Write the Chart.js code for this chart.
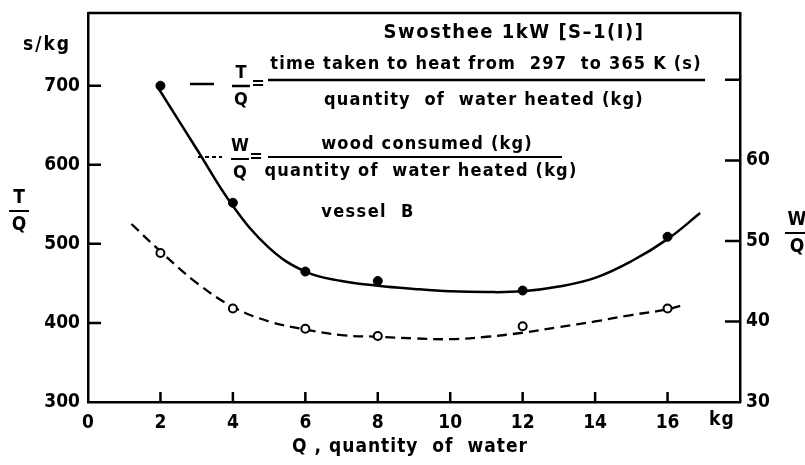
<!DOCTYPE html>
<html>
<head>
<meta charset="utf-8">
<script src="https://cdn.jsdelivr.net/npm/chart.js@4.4.0/dist/chart.umd.min.js"></script>
<style>
  html, body { margin: 0; padding: 0; background: #fff; }
</style>
</head>
<body>
<canvas id="chart" width="805" height="465"></canvas>
<script>
// measured points: filled dots = T/Q (left axis), open circles = W/Q (right axis)
const qPoints = [2, 4, 6, 8, 12, 16];
const tqPoints = [700, 552, 465, 453, 441, 509];
const wqPoints = [48.5, 41.6, 39.1, 38.2, 39.4, 41.6];

// smoothed curves as drawn through the points
const tqCurveQ = [1.9, 3, 4, 5, 6, 7, 8, 9, 10, 11, 12, 13, 14, 15, 16, 16.9];
const tqCurve = [700, 620, 548, 495, 465, 453, 447, 443, 440, 439, 440, 446, 457, 478, 506, 539];
const wqCurveQ = [1.2, 2, 3, 4, 5, 6, 7, 8, 9, 10, 11, 12, 13, 14, 15, 16, 16.4];
const wqCurve = [52.1, 48.7, 44.8, 41.8, 40.0, 39.0, 38.3, 38.1, 37.9, 37.8, 38.1, 38.6, 39.3, 40.0, 40.8, 41.5, 42.0];

// tick labels
const xTicks = [0, 2, 4, 6, 8, 10, 12, 14, 16];
const leftTicks = [300, 400, 500, 600, 700];
const rightTicks = [30, 40, 50, 60, 70];
const rightLabels = ['30', '40', '50', '60', ''];

const FONT = '"DejaVu Sans Condensed", "DejaVu Sans", sans-serif';

function pairs(xs, ys) {
    return xs.map((x, i) => ({ x: x, y: ys[i] }));
}

function fixTicks(values) {
    return scale => { scale.ticks = values.map(v => ({ value: v })); };
}

// fixed axis widths, no extra label padding at the ends
function fixWidth(w) {
    return s => {
        s.width = w;
        s.paddingTop = 0;
        s.paddingBottom = 0;
    };
}

// text, frame and inward tick marks
const annotations = {
    id: 'annotations',
    afterDraw(chart) {
        const ctx = chart.ctx;
        const area = chart.chartArea;
        const sx = chart.scales.x, sl = chart.scales.y, sr = chart.scales.y2;
        ctx.save();
        ctx.strokeStyle = '#000';
        ctx.fillStyle = '#000';

        // top frame line
        ctx.lineWidth = 2.5;
        ctx.beginPath();
        ctx.moveTo(area.left, area.top);
        ctx.lineTo(area.right, area.top);
        ctx.stroke();

        // tick marks pointing into the plot
        ctx.beginPath();
        xTicks.slice(1).forEach(v => {
            const px = sx.getPixelForValue(v);
            ctx.moveTo(px, area.bottom);
            ctx.lineTo(px, area.bottom - 10);
        });
        leftTicks.slice(1).forEach(v => {
            const py = sl.getPixelForValue(v);
            ctx.moveTo(area.left, py);
            ctx.lineTo(area.left + 13, py);
        });
        rightTicks.slice(1).forEach(v => {
            const py = sr.getPixelForValue(v);
            ctx.moveTo(area.right, py);
            ctx.lineTo(area.right - 15, py);
        });
        ctx.stroke();

        ctx.textAlign = 'center';
        ctx.textBaseline = 'middle';

        // axis units and titles
        ctx.font = 'bold 19px ' + FONT;
        ctx.letterSpacing = '1px';
        ctx.fillText('kg', sx.getPixelForValue(17.5), 420);
        ctx.letterSpacing = '2px';
        ctx.fillText('s/kg', 47, 45);
        ctx.letterSpacing = '1px';
        ctx.fillText('Q , quantity  of  water', (area.left + area.right) / 2 - 4, 447);
        ctx.letterSpacing = '0px';

        function fraction(top, bottom, cx, cy, half) {
            ctx.fillText(top, cx, cy - 13);
            ctx.fillText(bottom, cx, cy + 14);
            ctx.beginPath();
            ctx.moveTo(cx - half, cy);
            ctx.lineTo(cx + half, cy);
            ctx.stroke();
        }
        ctx.lineWidth = 2;
        fraction('T', 'Q', 19, 211, 10);
        fraction('W', 'Q', 797, 233, 12);

        // legend block
        ctx.font = 'bold 20px ' + FONT;
        ctx.letterSpacing = '1.5px';
        ctx.fillText('Swosthee 1kW [S\u20131(I)]', 514, 33);

        ctx.font = 'bold 18px ' + FONT;
        ctx.letterSpacing = '0px';
        ctx.lineWidth = 2.5;
        ctx.beginPath();
        ctx.moveTo(190, 84);
        ctx.lineTo(214, 84);
        ctx.stroke();
        fraction('T', 'Q', 241, 86, 9);
        ctx.fillText('=', 258, 84);
        ctx.letterSpacing = '1.2px';
        ctx.fillText('time taken to heat from  297  to 365 K (s)', 486, 64);
        ctx.fillText('quantity  of  water heated (kg)', 484, 100);
        ctx.letterSpacing = '0px';
        ctx.beginPath();
        ctx.moveTo(268, 80);
        ctx.lineTo(705, 80);
        ctx.stroke();

        ctx.lineWidth = 2;
        ctx.setLineDash([4, 3]);
        ctx.beginPath();
        ctx.moveTo(198, 157);
        ctx.lineTo(222, 157);
        ctx.stroke();
        ctx.setLineDash([]);
        fraction('W', 'Q', 240, 159, 9);
        ctx.fillText('=', 256, 157);
        ctx.letterSpacing = '1.2px';
        ctx.fillText('wood consumed (kg)', 427, 144);
        ctx.fillText('quantity of  water heated (kg)', 421, 171);
        ctx.beginPath();
        ctx.moveTo(268, 157);
        ctx.lineTo(562, 157);
        ctx.stroke();

        ctx.letterSpacing = '1.4px';
        ctx.fillText('vessel  B', 368, 212);
        ctx.restore();
    }
};

const chart = new Chart(document.getElementById('chart'), {
    type: 'line',
    data: {
        datasets: [
            {
                label: 'T/Q measured',
                data: pairs(qPoints, tqPoints),
                yAxisID: 'y',
                showLine: false,
                pointRadius: 4.5,
                pointBackgroundColor: '#000',
                pointBorderColor: '#000'
            },
            {
                label: 'W/Q measured',
                data: pairs(qPoints, wqPoints),
                yAxisID: 'y2',
                showLine: false,
                pointRadius: 4,
                pointBorderWidth: 2,
                pointBackgroundColor: '#fff',
                pointBorderColor: '#000'
            },
            {
                label: 'T/Q',
                data: pairs(tqCurveQ, tqCurve),
                yAxisID: 'y',
                borderColor: '#000',
                borderWidth: 2.5,
                pointRadius: 0,
                tension: 0.4
            },
            {
                label: 'W/Q',
                data: pairs(wqCurveQ, wqCurve),
                yAxisID: 'y2',
                borderColor: '#000',
                borderWidth: 2.3,
                borderDash: [10, 6],
                pointRadius: 0,
                tension: 0.4
            }
        ]
    },
    options: {
        responsive: false,
        animation: false,
        layout: { padding: { top: 13, left: 0, right: 0, bottom: 0 } },
        plugins: {
            legend: { display: false },
            tooltip: { enabled: false }
        },
        scales: {
            x: {
                type: 'linear',
                min: 0,
                max: 18,
                afterBuildTicks: fixTicks(xTicks),
                afterFit: s => { s.height = 63; },
                grid: { display: false, drawTicks: false },
                border: { display: true, color: '#000', width: 2.5 },
                ticks: {
                    color: '#000',
                    font: { family: FONT, size: 19, weight: 'bold' },
                    padding: 10,
                    maxRotation: 0
                }
            },
            y: {
                position: 'left',
                min: 300,
                max: 792,
                afterBuildTicks: fixTicks(leftTicks),
                afterFit: fixWidth(88),
                grid: { display: false, drawTicks: false },
                border: { display: true, color: '#000', width: 2.5 },
                ticks: {
                    color: '#000',
                    font: { family: FONT, size: 19, weight: 'bold' },
                    padding: 8
                }
            },
            y2: {
                position: 'right',
                min: 30,
                max: 78.3,
                afterBuildTicks: fixTicks(rightTicks),
                afterFit: fixWidth(65),
                grid: { display: false, drawTicks: false },
                border: { display: true, color: '#000', width: 2.5 },
                ticks: {
                    color: '#000',
                    font: { family: FONT, size: 19, weight: 'bold' },
                    padding: 6,
                    callback: (v, i) => rightLabels[i]
                }
            }
        }
    },
    plugins: [annotations]
});
</script>
</body>
</html>
